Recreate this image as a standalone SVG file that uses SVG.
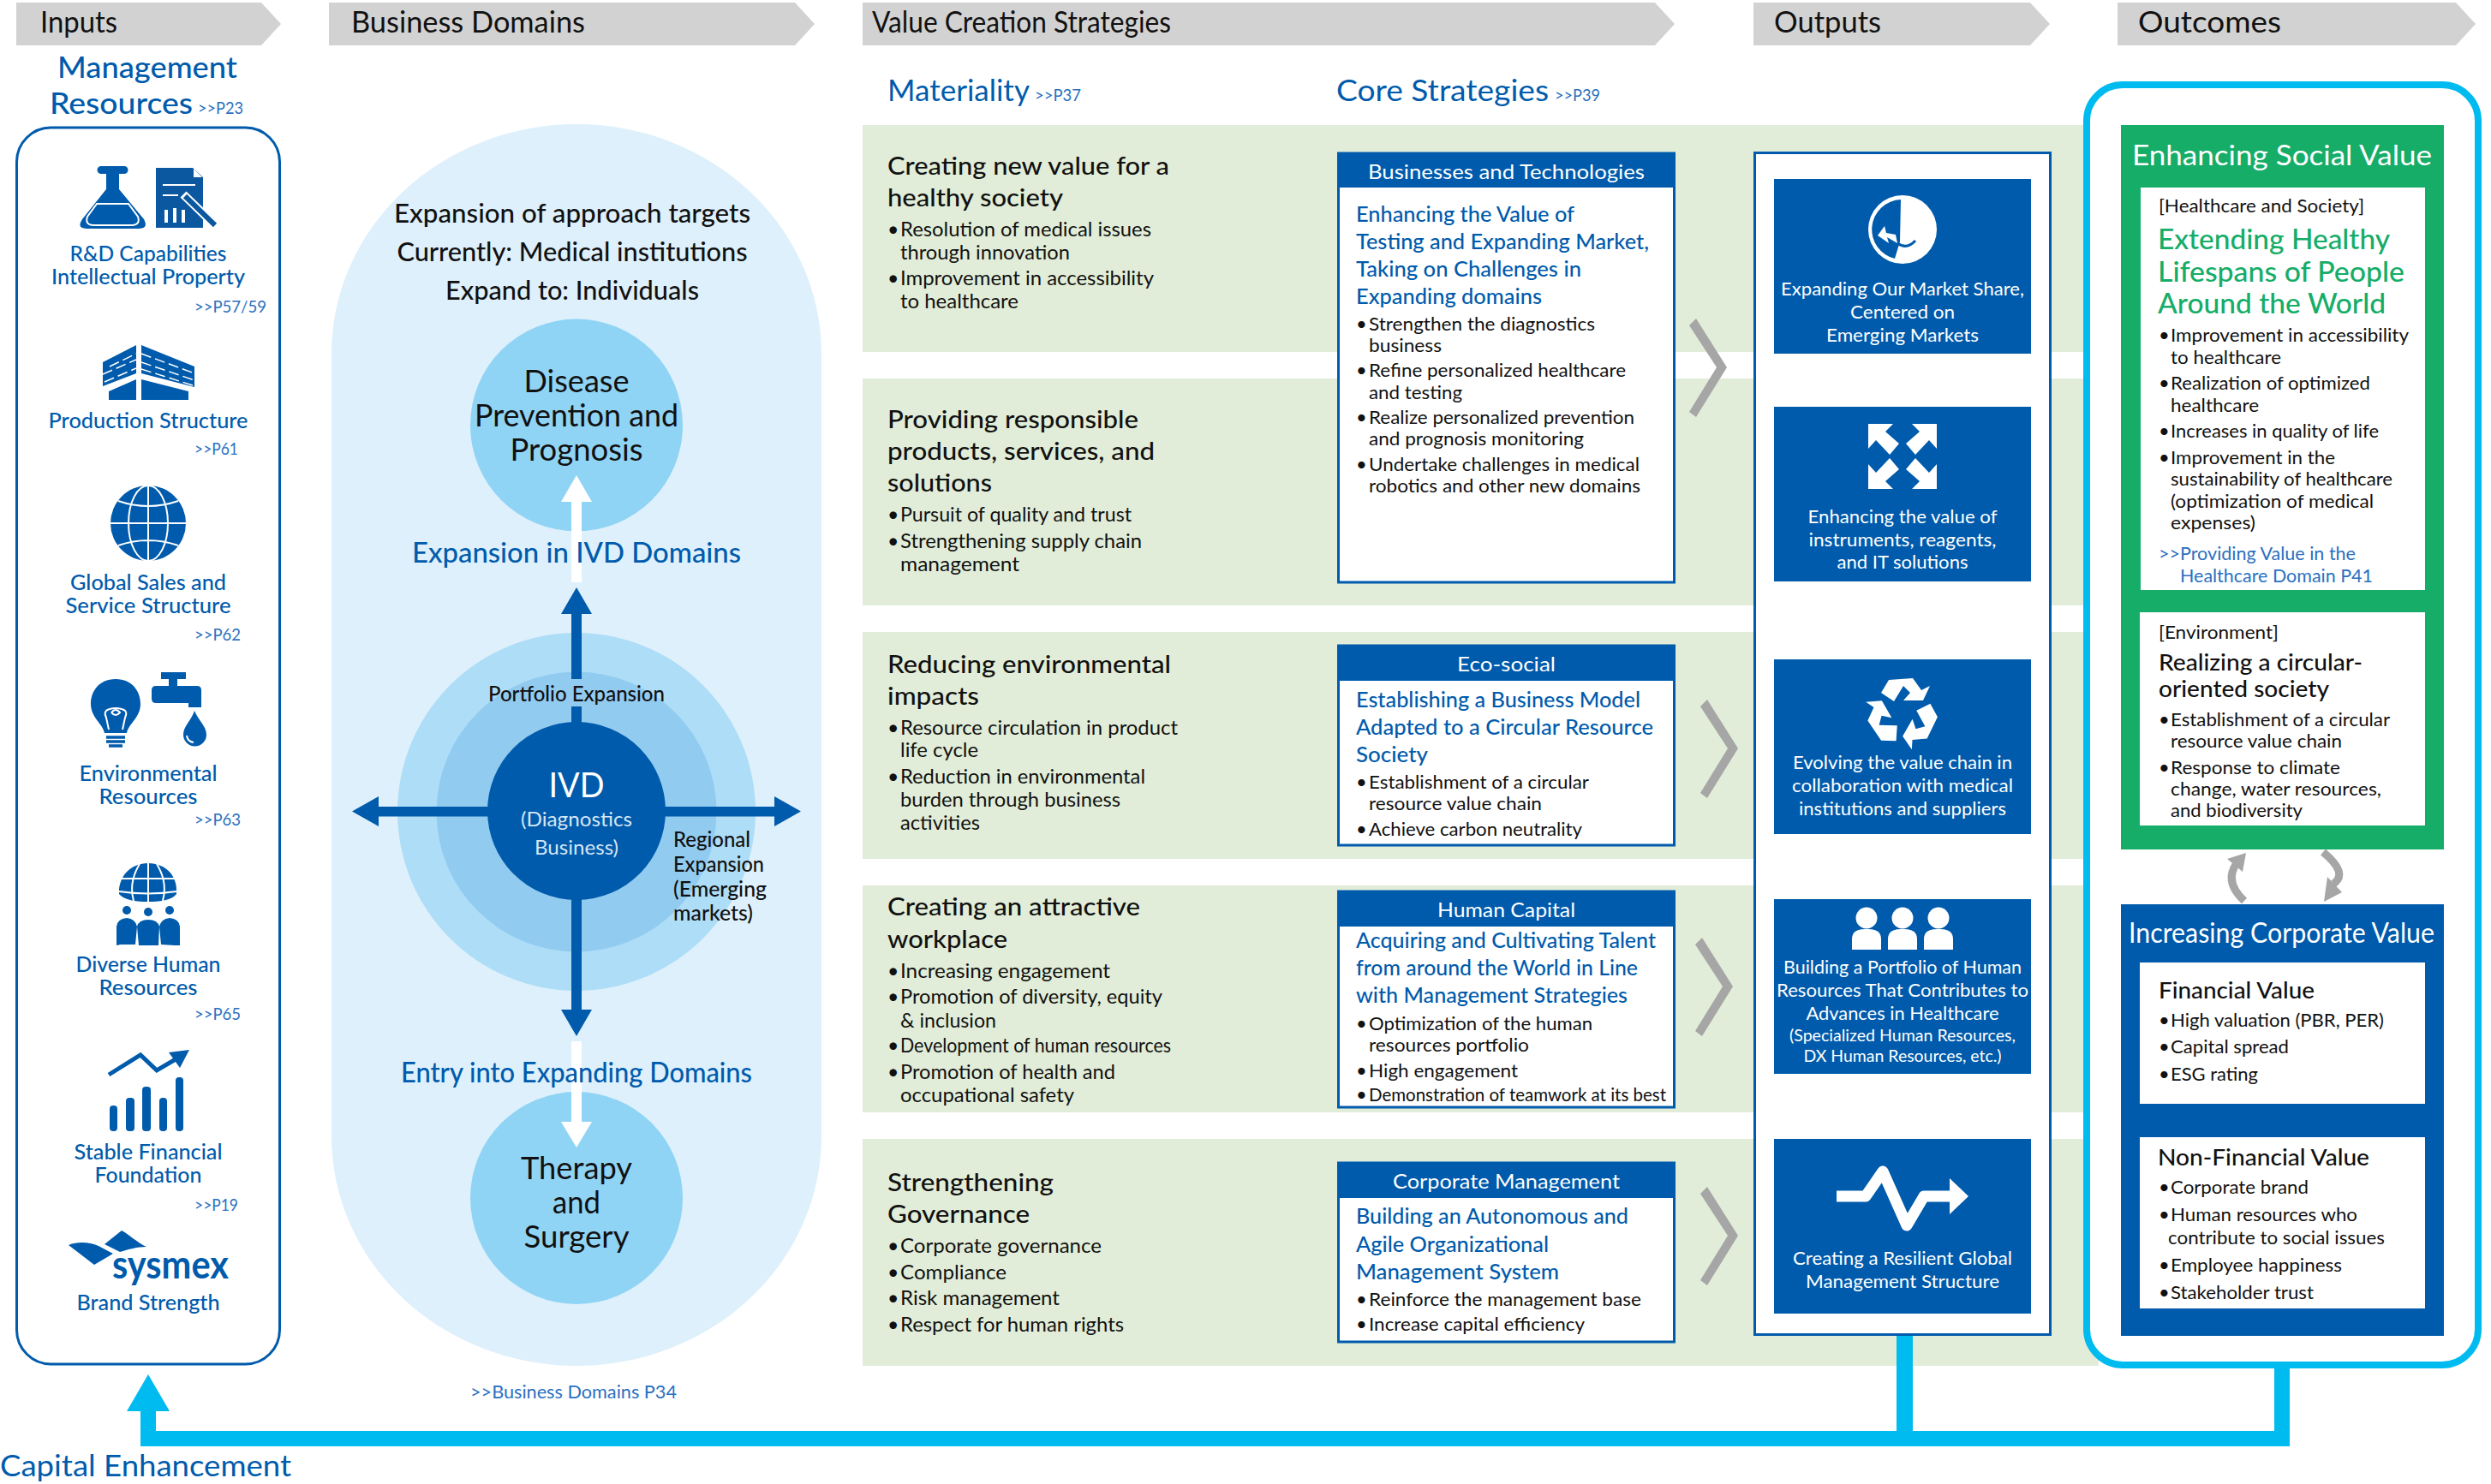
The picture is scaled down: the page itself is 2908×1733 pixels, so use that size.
<svg xmlns="http://www.w3.org/2000/svg" width="2908" height="1733" viewBox="0 0 2908 1733">
<style>
text{font-family:Lato,"Liberation Sans",sans-serif;fill:#111}
.b{fill:#005bac}.l{fill:#2b70c0}.w{fill:#fff}.g{fill:#15ad68}.lw{fill:#d6e6f5}
.c{text-anchor:middle}.m{font-weight:500}
.s19{font-size:19px}.s21{font-size:21px}.s22{font-size:22px}.s23{font-size:23px}.s24{font-size:24px}.s25{font-size:25px}.s26{font-size:26px}.s27{font-size:27px}.s28{font-size:28px}.s30{font-size:30px}.s32{font-size:32px}.s33{font-size:33px}.s34{font-size:34px}.s36{font-size:36px}.s40{font-size:40px}
.fb{fill:#005bac}.fw{fill:#fff}.fc{fill:#00bbf0}.fg{fill:#a6a6a6}.fh{fill:#d2d2d2}.fe{fill:#e1edd8}
.box{fill:#fff;stroke:#005bac;stroke-width:3}
.wl{fill:none;stroke:#fff;stroke-width:2}
</style>
<defs>
<polygon id="chev" points="0,8 8,0 44,57 8,115 0,109 32,57"/>
<polygon id="ra" points="-25,-23 -16,-38 12,-40 22,-26 32,-31 24,-14 1,-14 9,-23 1,-31 -10,-13"/>
<polygon id="ea" points="11,-38 40,-38 40,-9 31,-19 15,-2 4,-15 20,-29"/>
<g id="pers"><circle cx="0" cy="0" r="12.5"/><path d="M-17 37V25C-17 14-8 13 0 13S17 14 17 25V37Z"/></g>
</defs>

<rect class="fe" x="1007" y="146" width="1443" height="265"/>
<rect class="fe" x="1007" y="442" width="1443" height="265"/>
<rect class="fe" x="1007" y="738" width="1443" height="265"/>
<rect class="fe" x="1007" y="1034" width="1443" height="265"/>
<rect class="fe" x="1007" y="1330" width="1443" height="265"/>

<g id="header-inputs"><polygon class="fh" points="19,3 305,3 328,28 305,53 19,53"/><text class="s34" x="47" y="38" textLength="90" lengthAdjust="spacingAndGlyphs">Inputs</text></g>
<g id="header-domains"><polygon class="fh" points="384,3 928,3 951,28 928,53 384,53"/><text class="s34" x="410" y="38" textLength="273" lengthAdjust="spacingAndGlyphs">Business Domains</text></g>
<g id="header-strategies"><polygon class="fh" points="1007,3 1932,3 1955,28 1932,53 1007,53"/><text class="s34" x="1018" y="38" textLength="349" lengthAdjust="spacingAndGlyphs">Value Creation Strategies</text></g>
<g id="header-outputs"><polygon class="fh" points="2047,3 2370,3 2393,28 2370,53 2047,53"/><text class="s34" x="2071" y="38" textLength="125" lengthAdjust="spacingAndGlyphs">Outputs</text></g>
<g id="header-outcomes"><polygon class="fh" points="2472,3 2867,3 2890,28 2867,53 2472,53"/><text class="s34" x="2496" y="38" textLength="167" lengthAdjust="spacingAndGlyphs">Outcomes</text></g>

<g id="management-resources">
<text class="s34 b m c" x="172" y="91" textLength="210" lengthAdjust="spacingAndGlyphs">Management</text>
<text class="s34 b m" x="58" y="133" textLength="167" lengthAdjust="spacingAndGlyphs">Resources</text>
<text class="s19 l" x="231" y="133" textLength="53" lengthAdjust="spacingAndGlyphs">&gt;&gt;P23</text>
<rect x="19.500" y="149" width="307" height="1444" rx="40" fill="#fff" stroke="#005bac" stroke-width="3"/>
</g>

<g id="res-rd">
<path class="fb" d="M118 194H145a4.500 4.500 0 0 1 0 9H139V221L168 256Q174 267 162 267H101Q89 267 96 256L124 221V203H118a4.500 4.500 0 0 1 0-9Z"/>
<path class="wl" d="M113 238H150L161 253Q164 262 155 263H108Q99 262 102 253Z"/>
<path fill="#0b57a0" d="M182 196H225L237 207V266H182Z"/>
<path class="fw" d="M226 197L236 207H226Z"/>
<path class="wl" d="M190 216H228M190 228H208"/>
<path d="M194 245V260M204 243V260M214 245V260" stroke="#fff" stroke-width="4" fill="none"/>
<path d="M214 227L250 262" stroke="#fff" stroke-width="10" fill="none"/>
<path d="M216 229L251 263" stroke="#0b57a0" stroke-width="6" fill="none"/>
<text class="s24 b m c" x="173" y="305" textLength="183" lengthAdjust="spacingAndGlyphs">R&amp;D Capabilities</text>
<text class="s24 b m c" x="173" y="332" textLength="226" lengthAdjust="spacingAndGlyphs">Intellectual Property</text>
<text class="s19 l" x="227" y="365" textLength="84" lengthAdjust="spacingAndGlyphs">&gt;&gt;P57/59</text>
</g>

<g id="res-production">
<polygon class="fb" points="120,423 159,403 159,436 120,451"/>
<polygon class="fb" points="165,403 227,428 227,452 165,436"/>
<polygon class="fb" points="127,467 127,457 159,443 159,467"/>
<polygon class="fb" points="165,443 220,457 220,467 165,467"/>
<path d="M120 437L159 420M122 446L159 430M128 428L159 413M165 413L227 436M165 423L227 444M165 431L225 450" stroke="#fff" stroke-width="1.500" stroke-dasharray="12 5" fill="none"/>
<text class="s24 b m c" x="173" y="500" textLength="233" lengthAdjust="spacingAndGlyphs">Production Structure</text>
<text class="s19 l" x="227" y="531" textLength="51" lengthAdjust="spacingAndGlyphs">&gt;&gt;P61</text>
</g>

<g id="res-global">
<circle class="fb" cx="173" cy="611" r="44"/>
<ellipse class="wl" cx="173" cy="611" rx="23" ry="44"/>
<path class="wl" d="M173 567V655M129 611H217M138 585Q173 597 208 585M138 637Q173 625 208 637"/>
<text class="s24 b m c" x="173" y="689" textLength="182" lengthAdjust="spacingAndGlyphs">Global Sales and</text>
<text class="s24 b m c" x="173" y="716" textLength="193" lengthAdjust="spacingAndGlyphs">Service Structure</text>
<text class="s19 l" x="227" y="748" textLength="54" lengthAdjust="spacingAndGlyphs">&gt;&gt;P62</text>
</g>

<g id="res-environment">
<path class="fb" d="M135 793C155 793 164 808 164 822C164 838 150 845 148 856H122C120 845 106 838 106 822C106 808 115 793 135 793Z"/>
<path class="wl" d="M127 852L124 838Q120 830 128 828Q135 826 142 828Q150 830 146 838L143 852M130 832Q135 838 140 832Q135 826 130 832"/>
<path d="M124 861H146M124 866H146M127 871H143" stroke="#005bac" stroke-width="3.500" fill="none"/>
<path class="fb" d="M188 785H217V793H207V801H230Q235 801 235 806V826H220V821H182Q177 821 177 816V806Q177 801 182 801H197V793H188Z"/>
<path class="fb" d="M227 830C232 842 241 848 241 858A13.500 13.500 0 0 1 214 858C214 848 223 842 227 830Z"/>
<path class="wl" d="M218 859Q219 866 226 867"/>
<text class="s24 b m c" x="173" y="912" textLength="161" lengthAdjust="spacingAndGlyphs">Environmental</text>
<text class="s24 b m c" x="173" y="939" textLength="115" lengthAdjust="spacingAndGlyphs">Resources</text>
<text class="s19 l" x="227" y="964" textLength="54" lengthAdjust="spacingAndGlyphs">&gt;&gt;P63</text>
</g>

<g id="res-human">
<path class="fb" d="M139 1038C141 1020 155 1008 173 1008C191 1008 205 1020 206 1038V1044C200 1052 185 1053 173 1053C160 1053 146 1052 139 1044Z"/>
<path class="wl" d="M173 1008V1053M139 1026H206M139 1041Q173 1046 206 1041M156 1052Q150 1030 163 1009M190 1052Q196 1030 183 1009"/>
<circle class="fb" cx="148" cy="1063" r="5"/><circle class="fb" cx="173" cy="1065" r="5"/><circle class="fb" cx="198" cy="1063" r="5"/>
<path class="fb" d="M136 1104V1082Q137 1073 148 1072Q158 1073 160 1082L158 1103H141ZM162 1104L160 1082Q162 1074 173 1074Q184 1074 186 1082L185 1104ZM188 1103L186 1082Q188 1073 198 1072Q209 1073 210 1082V1104H204Z"/>
<text class="s24 b m c" x="173" y="1135" textLength="169" lengthAdjust="spacingAndGlyphs">Diverse Human</text>
<text class="s24 b m c" x="173" y="1162" textLength="115" lengthAdjust="spacingAndGlyphs">Resources</text>
<text class="s19 l" x="227" y="1191" textLength="54" lengthAdjust="spacingAndGlyphs">&gt;&gt;P65</text>
</g>

<g id="res-financial">
<path d="M127 1255L164 1232L183 1250L205 1237" fill="none" stroke="#005bac" stroke-width="5"/>
<polygon class="fb" points="197,1229 221,1226 210,1247"/>
<rect class="fb" x="128" y="1291" width="9" height="30" rx="4"/><rect class="fb" x="147" y="1282" width="10" height="39" rx="4"/><rect class="fb" x="166" y="1269" width="10" height="52" rx="4"/><rect class="fb" x="186" y="1282" width="9" height="39" rx="4"/><rect class="fb" x="205" y="1258" width="9" height="63" rx="4"/>
<text class="s24 b m c" x="173" y="1354" textLength="173" lengthAdjust="spacingAndGlyphs">Stable Financial</text>
<text class="s24 b m c" x="173" y="1381" textLength="125" lengthAdjust="spacingAndGlyphs">Foundation</text>
<text class="s19 l" x="227" y="1414" textLength="51" lengthAdjust="spacingAndGlyphs">&gt;&gt;P19</text>
</g>

<g id="res-brand">
<path class="fb" d="M80 1454C92 1449 105 1451 115 1455L132 1464L110 1477Z"/>
<path class="fb" d="M122 1453L142 1437C150 1441 160 1451 171 1456C160 1456 150 1459 140 1462Z"/>
<text x="199" y="1493" text-anchor="middle" font-size="46" font-weight="700" style="fill:#005bac" textLength="136" lengthAdjust="spacingAndGlyphs">sysmex</text>
<text class="s24 b m c" x="173" y="1530" textLength="167" lengthAdjust="spacingAndGlyphs">Brand Strength</text>
</g>

<g id="business-domains">
<rect x="387" y="145" width="572" height="1450" rx="286" ry="268" fill="#def0fb"/>
<circle cx="673" cy="948" r="209" fill="#aeddf7"/>
<circle cx="673" cy="948" r="163.500" fill="#92cbf0"/>
</g>
<g id="domain-prevention"><circle cx="673" cy="496.500" r="124" fill="#90d4f5"/>
<text class="s36 c" x="673" y="458" textLength="123" lengthAdjust="spacingAndGlyphs">Disease</text>
<text class="s36 c" x="673" y="498" textLength="238" lengthAdjust="spacingAndGlyphs">Prevention and</text>
<text class="s36 c" x="673" y="538" textLength="155" lengthAdjust="spacingAndGlyphs">Prognosis</text></g>
<g id="domain-therapy"><circle cx="673" cy="1399" r="124" fill="#90d4f5"/>
<text class="s36 c" x="673" y="1377" textLength="130" lengthAdjust="spacingAndGlyphs">Therapy</text>
<text class="s36 c" x="673" y="1417" textLength="56" lengthAdjust="spacingAndGlyphs">and</text>
<text class="s36 c" x="673" y="1457" textLength="123" lengthAdjust="spacingAndGlyphs">Surgery</text></g>

<g id="connectors">
<path class="fb" d="M667 793V717H655L673 686L691 717H679V793ZM667 825H679V850H667ZM667 1045H679V1179H691L673 1210L655 1179H667ZM575 942V953.500H442V965L411 947.500L442 930V942ZM771 942H904V930L935 947.500L904 965V953.500H771Z"/>
<path class="fw" d="M667 680V586H655L673 555L691 586H679V680ZM667 1216H679V1310H691L673 1340L655 1310H667Z"/>
<path class="fc" d="M148 1648L173 1605L198 1648H182V1671H2214V1560H2233V1671H2655V1594H2673V1689H164V1648Z"/>
<use class="fg" href="#chev" x="1972" y="372"/>
<use class="fg" href="#chev" x="1985" y="817"/>
<use class="fg" href="#chev" x="1979" y="1095"/>
<use class="fg" href="#chev" x="1985" y="1386"/>
</g>

<g id="domain-labels">
<text class="s30 m c" x="668" y="260" textLength="416" lengthAdjust="spacingAndGlyphs">Expansion of approach targets</text>
<text class="s30 m c" x="668" y="305" textLength="409" lengthAdjust="spacingAndGlyphs">Currently: Medical institutions</text>
<text class="s30 m c" x="668" y="350" textLength="296" lengthAdjust="spacingAndGlyphs">Expand to: Individuals</text>
<text class="s32 b m c" x="673" y="657" textLength="384" lengthAdjust="spacingAndGlyphs">Expansion in IVD Domains</text>
<text class="s32 b m c" x="673" y="1264" textLength="410" lengthAdjust="spacingAndGlyphs">Entry into Expanding Domains</text>
<text class="l s21 c" x="669.500" y="1633" textLength="241" lengthAdjust="spacingAndGlyphs">&gt;&gt;Business Domains P34</text>
<text class="s24 m c" x="673" y="819" textLength="206" lengthAdjust="spacingAndGlyphs">Portfolio Expansion</text>
<text class="s24 m" x="786" y="989" textLength="90" lengthAdjust="spacingAndGlyphs">Regional</text>
<text class="s24 m" x="786" y="1018" textLength="106" lengthAdjust="spacingAndGlyphs">Expansion</text>
<text class="s24 m" x="786" y="1047" textLength="109" lengthAdjust="spacingAndGlyphs">(Emerging</text>
<text class="s24 m" x="786" y="1075" textLength="93" lengthAdjust="spacingAndGlyphs">markets)</text>
</g>

<g id="domain-ivd"><circle cx="673" cy="947" r="104" fill="#005bac"/>
<text class="s40 w c" x="673" y="931" textLength="65" lengthAdjust="spacingAndGlyphs">IVD</text>
<text class="s24 lw c" x="673" y="965" textLength="130" lengthAdjust="spacingAndGlyphs">(Diagnostics</text>
<text class="s24 lw c" x="673" y="998" textLength="98" lengthAdjust="spacingAndGlyphs">Business)</text></g>

<g id="strategy-titles">
<text class="s34 b" x="1036" y="118" textLength="166" lengthAdjust="spacingAndGlyphs">Materiality</text>
<text class="s19 l" x="1208" y="118" textLength="54" lengthAdjust="spacingAndGlyphs">&gt;&gt;P37</text>
<text class="s34 b" x="1560" y="118" textLength="248" lengthAdjust="spacingAndGlyphs">Core Strategies</text>
<text class="s19 l" x="1815" y="118" textLength="53" lengthAdjust="spacingAndGlyphs">&gt;&gt;P39</text>
</g>

<g id="materiality-1">
<text class="s28 m" x="1036" y="204" textLength="329" lengthAdjust="spacingAndGlyphs">Creating new value for a</text>
<text class="s28 m" x="1036" y="241" textLength="205" lengthAdjust="spacingAndGlyphs">healthy society</text>
<text class="s23" x="1036" y="276">•</text><text class="s23" x="1051" y="276" textLength="293" lengthAdjust="spacingAndGlyphs">Resolution of medical issues</text>
<text class="s23" x="1051" y="303" textLength="198" lengthAdjust="spacingAndGlyphs">through innovation</text>
<text class="s23" x="1036" y="333">•</text><text class="s23" x="1051" y="333" textLength="296" lengthAdjust="spacingAndGlyphs">Improvement in accessibility</text>
<text class="s23" x="1051" y="360" textLength="138" lengthAdjust="spacingAndGlyphs">to healthcare</text>
</g>
<g id="materiality-2">
<text class="s28 m" x="1036" y="500" textLength="293" lengthAdjust="spacingAndGlyphs">Providing responsible</text>
<text class="s28 m" x="1036" y="537" textLength="312" lengthAdjust="spacingAndGlyphs">products, services, and</text>
<text class="s28 m" x="1036" y="574" textLength="122" lengthAdjust="spacingAndGlyphs">solutions</text>
<text class="s23" x="1036" y="609">•</text><text class="s23" x="1051" y="609" textLength="270" lengthAdjust="spacingAndGlyphs">Pursuit of quality and trust</text>
<text class="s23" x="1036" y="640">•</text><text class="s23" x="1051" y="640" textLength="282" lengthAdjust="spacingAndGlyphs">Strengthening supply chain</text>
<text class="s23" x="1051" y="667" textLength="139" lengthAdjust="spacingAndGlyphs">management</text>
</g>
<g id="materiality-3">
<text class="s28 m" x="1036" y="786" textLength="331" lengthAdjust="spacingAndGlyphs">Reducing environmental</text>
<text class="s28 m" x="1036" y="823" textLength="107" lengthAdjust="spacingAndGlyphs">impacts</text>
<text class="s23" x="1036" y="858">•</text><text class="s23" x="1051" y="858" textLength="324" lengthAdjust="spacingAndGlyphs">Resource circulation in product</text>
<text class="s23" x="1051" y="884" textLength="91" lengthAdjust="spacingAndGlyphs">life cycle</text>
<text class="s23" x="1036" y="915">•</text><text class="s23" x="1051" y="915" textLength="286" lengthAdjust="spacingAndGlyphs">Reduction in environmental</text>
<text class="s23" x="1051" y="942" textLength="257" lengthAdjust="spacingAndGlyphs">burden through business</text>
<text class="s23" x="1051" y="969" textLength="93" lengthAdjust="spacingAndGlyphs">activities</text>
</g>
<g id="materiality-4">
<text class="s28 m" x="1036" y="1069" textLength="295" lengthAdjust="spacingAndGlyphs">Creating an attractive</text>
<text class="s28 m" x="1036" y="1107" textLength="140" lengthAdjust="spacingAndGlyphs">workplace</text>
<text class="s23" x="1036" y="1142">•</text><text class="s23" x="1051" y="1142" textLength="245" lengthAdjust="spacingAndGlyphs">Increasing engagement</text>
<text class="s23" x="1036" y="1172">•</text><text class="s23" x="1051" y="1172" textLength="306" lengthAdjust="spacingAndGlyphs">Promotion of diversity, equity</text>
<text class="s23" x="1051" y="1200" textLength="112" lengthAdjust="spacingAndGlyphs">&amp; inclusion</text>
<text class="s23" x="1036" y="1229">•</text><text class="s23" x="1051" y="1229" textLength="316" lengthAdjust="spacingAndGlyphs">Development of human resources</text>
<text class="s23" x="1036" y="1260">•</text><text class="s23" x="1051" y="1260" textLength="251" lengthAdjust="spacingAndGlyphs">Promotion of health and</text>
<text class="s23" x="1051" y="1287" textLength="203" lengthAdjust="spacingAndGlyphs">occupational safety</text>
</g>
<g id="materiality-5">
<text class="s28 m" x="1036" y="1391" textLength="194" lengthAdjust="spacingAndGlyphs">Strengthening</text>
<text class="s28 m" x="1036" y="1428" textLength="166" lengthAdjust="spacingAndGlyphs">Governance</text>
<text class="s23" x="1036" y="1463">•</text><text class="s23" x="1051" y="1463" textLength="235" lengthAdjust="spacingAndGlyphs">Corporate governance</text>
<text class="s23" x="1036" y="1494">•</text><text class="s23" x="1051" y="1494" textLength="124" lengthAdjust="spacingAndGlyphs">Compliance</text>
<text class="s23" x="1036" y="1524">•</text><text class="s23" x="1051" y="1524" textLength="186" lengthAdjust="spacingAndGlyphs">Risk management</text>
<text class="s23" x="1036" y="1555">•</text><text class="s23" x="1051" y="1555" textLength="261" lengthAdjust="spacingAndGlyphs">Respect for human rights</text>
</g>

<g id="core-business">
<rect class="box" x="1562.500" y="179" width="392" height="501"/><rect class="fb" x="1561" y="178" width="395" height="41"/>
<text class="s24 w c" x="1758.500" y="209" textLength="323" lengthAdjust="spacingAndGlyphs">Businesses and Technologies</text>
<text class="s25 b m" x="1583" y="259" textLength="255" lengthAdjust="spacingAndGlyphs">Enhancing the Value of</text>
<text class="s25 b m" x="1583" y="291" textLength="342" lengthAdjust="spacingAndGlyphs">Testing and Expanding Market,</text>
<text class="s25 b m" x="1583" y="323" textLength="263" lengthAdjust="spacingAndGlyphs">Taking on Challenges in</text>
<text class="s25 b m" x="1583" y="355" textLength="217" lengthAdjust="spacingAndGlyphs">Expanding domains</text>
<text class="s22" x="1583" y="386">•</text><text class="s22" x="1598" y="386" textLength="264" lengthAdjust="spacingAndGlyphs">Strengthen the diagnostics</text>
<text class="s22" x="1598" y="411" textLength="85" lengthAdjust="spacingAndGlyphs">business</text>
<text class="s22" x="1583" y="440">•</text><text class="s22" x="1598" y="440" textLength="300" lengthAdjust="spacingAndGlyphs">Refine personalized healthcare</text>
<text class="s22" x="1598" y="466" textLength="109" lengthAdjust="spacingAndGlyphs">and testing</text>
<text class="s22" x="1583" y="495">•</text><text class="s22" x="1598" y="495" textLength="310" lengthAdjust="spacingAndGlyphs">Realize personalized prevention</text>
<text class="s22" x="1598" y="520" textLength="251" lengthAdjust="spacingAndGlyphs">and prognosis monitoring</text>
<text class="s22" x="1583" y="550">•</text><text class="s22" x="1598" y="550" textLength="316" lengthAdjust="spacingAndGlyphs">Undertake challenges in medical</text>
<text class="s22" x="1598" y="575" textLength="317" lengthAdjust="spacingAndGlyphs">robotics and other new domains</text>
</g>
<g id="core-eco">
<rect class="box" x="1562.500" y="754" width="392" height="233"/><rect class="fb" x="1561" y="753" width="395" height="42"/>
<text class="s24 w c" x="1758.500" y="784" textLength="115" lengthAdjust="spacingAndGlyphs">Eco-social</text>
<text class="s25 b m" x="1583" y="826" textLength="332" lengthAdjust="spacingAndGlyphs">Establishing a Business Model</text>
<text class="s25 b m" x="1583" y="858" textLength="347" lengthAdjust="spacingAndGlyphs">Adapted to a Circular Resource</text>
<text class="s25 b m" x="1583" y="890" textLength="84" lengthAdjust="spacingAndGlyphs">Society</text>
<text class="s22" x="1583" y="921">•</text><text class="s22" x="1598" y="921" textLength="257" lengthAdjust="spacingAndGlyphs">Establishment of a circular</text>
<text class="s22" x="1598" y="946" textLength="202" lengthAdjust="spacingAndGlyphs">resource value chain</text>
<text class="s22" x="1583" y="976">•</text><text class="s22" x="1598" y="976" textLength="249" lengthAdjust="spacingAndGlyphs">Achieve carbon neutrality</text>
</g>
<g id="core-human">
<rect class="box" x="1562.500" y="1041" width="392" height="252"/><rect class="fb" x="1561" y="1040" width="395" height="42"/>
<text class="s24 w c" x="1758.500" y="1071" textLength="161" lengthAdjust="spacingAndGlyphs">Human Capital</text>
<text class="s25 b m" x="1583" y="1107" textLength="350" lengthAdjust="spacingAndGlyphs">Acquiring and Cultivating Talent</text>
<text class="s25 b m" x="1583" y="1139" textLength="329" lengthAdjust="spacingAndGlyphs">from around the World in Line</text>
<text class="s25 b m" x="1583" y="1171" textLength="317" lengthAdjust="spacingAndGlyphs">with Management Strategies</text>
<text class="s22" x="1583" y="1203">•</text><text class="s22" x="1598" y="1203" textLength="261" lengthAdjust="spacingAndGlyphs">Optimization of the human</text>
<text class="s22" x="1598" y="1228" textLength="187" lengthAdjust="spacingAndGlyphs">resources portfolio</text>
<text class="s22" x="1583" y="1258">•</text><text class="s22" x="1598" y="1258" textLength="174" lengthAdjust="spacingAndGlyphs">High engagement</text>
<text class="s22" x="1583" y="1286">•</text><text class="s22" x="1598" y="1286" textLength="347" lengthAdjust="spacingAndGlyphs">Demonstration of teamwork at its best</text>
</g>
<g id="core-corporate">
<rect class="box" x="1562.500" y="1358" width="392" height="209"/><rect class="fb" x="1561" y="1357" width="395" height="42"/>
<text class="s24 w c" x="1758.500" y="1388" textLength="265" lengthAdjust="spacingAndGlyphs">Corporate Management</text>
<text class="s25 b m" x="1583" y="1429" textLength="318" lengthAdjust="spacingAndGlyphs">Building an Autonomous and</text>
<text class="s25 b m" x="1583" y="1462" textLength="225" lengthAdjust="spacingAndGlyphs">Agile Organizational</text>
<text class="s25 b m" x="1583" y="1494" textLength="237" lengthAdjust="spacingAndGlyphs">Management System</text>
<text class="s22" x="1583" y="1525">•</text><text class="s22" x="1598" y="1525" textLength="318" lengthAdjust="spacingAndGlyphs">Reinforce the management base</text>
<text class="s22" x="1583" y="1554">•</text><text class="s22" x="1598" y="1554" textLength="252" lengthAdjust="spacingAndGlyphs">Increase capital efficiency</text>
</g>

<rect class="box" x="2048.500" y="178.500" width="345" height="1380"/>
<g id="output-market">
<rect class="fb" x="2071" y="209" width="300" height="204"/>
<circle class="fw" cx="2221" cy="268" r="40"/>
<path class="fb" d="M2219 233A35 35 0 0 0 2212 302L2218 282Z"/>
<polygon class="fw" points="2192,275 2200,264 2202,272 2213,274 2215,284 2203,277 2205,284"/>
<path d="M2215 284Q2226 292 2236 281" fill="none" stroke="#005bac" stroke-width="3"/>
<text class="s22 w c" x="2221" y="345" textLength="284" lengthAdjust="spacingAndGlyphs">Expanding Our Market Share,</text>
<text class="s22 w c" x="2221" y="372" textLength="122" lengthAdjust="spacingAndGlyphs">Centered on</text>
<text class="s22 w c" x="2221" y="399" textLength="178" lengthAdjust="spacingAndGlyphs">Emerging Markets</text>
</g>
<g id="output-value">
<rect class="fb" x="2071" y="475" width="300" height="204"/>
<g class="fw" transform="translate(2221 533)"><use href="#ea"/><use href="#ea" transform="scale(-1 1)"/><use href="#ea" transform="scale(1 -1)"/><use href="#ea" transform="scale(-1 -1)"/></g>
<text class="s22 w c" x="2221" y="611" textLength="221" lengthAdjust="spacingAndGlyphs">Enhancing the value of</text>
<text class="s22 w c" x="2221" y="638" textLength="219" lengthAdjust="spacingAndGlyphs">instruments, reagents,</text>
<text class="s22 w c" x="2221" y="664" textLength="153" lengthAdjust="spacingAndGlyphs">and IT solutions</text>
</g>
<g id="output-chain">
<rect class="fb" x="2071" y="770" width="300" height="204"/>
<g class="fw" transform="translate(2221 832)"><use href="#ra"/><use href="#ra" transform="rotate(120)"/><use href="#ra" transform="rotate(240)"/></g>
<text class="s22 w c" x="2221" y="898" textLength="256" lengthAdjust="spacingAndGlyphs">Evolving the value chain in</text>
<text class="s22 w c" x="2221" y="925" textLength="258" lengthAdjust="spacingAndGlyphs">collaboration with medical</text>
<text class="s22 w c" x="2221" y="952" textLength="242" lengthAdjust="spacingAndGlyphs">institutions and suppliers</text>
</g>
<g id="output-human">
<rect class="fb" x="2071" y="1050" width="300" height="204"/>
<g class="fw"><use href="#pers" x="2179" y="1072"/><use href="#pers" x="2221" y="1072"/><use href="#pers" x="2263" y="1072"/></g>
<text class="s22 w c" x="2221" y="1137" textLength="278" lengthAdjust="spacingAndGlyphs">Building a Portfolio of Human</text>
<text class="s22 w c" x="2221" y="1164" textLength="294" lengthAdjust="spacingAndGlyphs">Resources That Contributes to</text>
<text class="s22 w c" x="2221" y="1191" textLength="225" lengthAdjust="spacingAndGlyphs">Advances in Healthcare</text>
<text class="s19 w c" x="2221" y="1216" textLength="264" lengthAdjust="spacingAndGlyphs">(Specialized Human Resources,</text>
<text class="s19 w c" x="2221" y="1240" textLength="231" lengthAdjust="spacingAndGlyphs">DX Human Resources, etc.)</text>
</g>
<g id="output-structure">
<rect class="fb" x="2071" y="1330" width="300" height="204"/>
<path d="M2144 1397H2178L2198 1368L2226 1431L2246 1397H2280" fill="none" stroke="#fff" stroke-width="13" stroke-linejoin="round"/>
<polygon class="fw" points="2276,1376 2298,1397 2276,1418"/>
<text class="s22 w c" x="2221" y="1477" textLength="256" lengthAdjust="spacingAndGlyphs">Creating a Resilient Global</text>
<text class="s22 w c" x="2221" y="1504" textLength="226" lengthAdjust="spacingAndGlyphs">Management Structure</text>
</g>

<g id="outcomes">
<rect x="2436" y="99" width="457" height="1495" rx="42" fill="#fff" stroke="#00bbf0" stroke-width="8"/>
</g>
<g id="social-value">
<rect x="2476" y="146" width="377" height="846" fill="#15ad68"/>
<text class="s32 w" x="2489" y="193" textLength="350" lengthAdjust="spacingAndGlyphs">Enhancing Social Value</text>
<rect class="fw" x="2499" y="219" width="332" height="470"/>
<text class="s22" x="2520" y="248" textLength="240" lengthAdjust="spacingAndGlyphs">[Healthcare and Society]</text>
<text class="s32 g m" x="2519" y="291" textLength="271" lengthAdjust="spacingAndGlyphs">Extending Healthy</text>
<text class="s32 g m" x="2519" y="329" textLength="288" lengthAdjust="spacingAndGlyphs">Lifespans of People</text>
<text class="s32 g m" x="2519" y="366" textLength="266" lengthAdjust="spacingAndGlyphs">Around the World</text>
<text class="s22" x="2520" y="399">•</text><text class="s22" x="2534" y="399" textLength="278" lengthAdjust="spacingAndGlyphs">Improvement in accessibility</text>
<text class="s22" x="2534" y="425" textLength="129" lengthAdjust="spacingAndGlyphs">to healthcare</text>
<text class="s22" x="2520" y="455">•</text><text class="s22" x="2534" y="455" textLength="233" lengthAdjust="spacingAndGlyphs">Realization of optimized</text>
<text class="s22" x="2534" y="481" textLength="103" lengthAdjust="spacingAndGlyphs">healthcare</text>
<text class="s22" x="2520" y="511">•</text><text class="s22" x="2534" y="511" textLength="243" lengthAdjust="spacingAndGlyphs">Increases in quality of life</text>
<text class="s22" x="2520" y="542">•</text><text class="s22" x="2534" y="542" textLength="192" lengthAdjust="spacingAndGlyphs">Improvement in the</text>
<text class="s22" x="2534" y="567" textLength="259" lengthAdjust="spacingAndGlyphs">sustainability of healthcare</text>
<text class="s22" x="2534" y="593" textLength="237" lengthAdjust="spacingAndGlyphs">(optimization of medical</text>
<text class="s22" x="2534" y="618" textLength="99" lengthAdjust="spacingAndGlyphs">expenses)</text>
<text class="s22 l" x="2520" y="654" textLength="230" lengthAdjust="spacingAndGlyphs">&gt;&gt;Providing Value in the</text>
<text class="s22 l" x="2545" y="680" textLength="225" lengthAdjust="spacingAndGlyphs">Healthcare Domain P41</text>
<rect class="fw" x="2498" y="715" width="333" height="249"/>
<text class="s22" x="2520" y="746" textLength="140" lengthAdjust="spacingAndGlyphs">[Environment]</text>
<text class="s27 m" x="2520" y="783" textLength="238" lengthAdjust="spacingAndGlyphs">Realizing a circular-</text>
<text class="s27 m" x="2520" y="814" textLength="199" lengthAdjust="spacingAndGlyphs">oriented society</text>
<text class="s22" x="2520" y="848">•</text><text class="s22" x="2534" y="848" textLength="256" lengthAdjust="spacingAndGlyphs">Establishment of a circular</text>
<text class="s22" x="2534" y="873" textLength="200" lengthAdjust="spacingAndGlyphs">resource value chain</text>
<text class="s22" x="2520" y="904">•</text><text class="s22" x="2534" y="904" textLength="198" lengthAdjust="spacingAndGlyphs">Response to climate</text>
<text class="s22" x="2534" y="929" textLength="246" lengthAdjust="spacingAndGlyphs">change, water resources,</text>
<text class="s22" x="2534" y="954" textLength="154" lengthAdjust="spacingAndGlyphs">and biodiversity</text>
</g>
<g id="value-cycle" fill="none" stroke="#a6a6a6" stroke-width="9">
<path d="M2620 1052Q2596 1030 2611 1008"/>
<path d="M2712 995Q2742 1020 2724 1032"/>
<polygon fill="#a6a6a6" stroke="none" points="2600,1003 2622,996 2618,1018"/>
<polygon fill="#a6a6a6" stroke="none" points="2713,1053 2734,1042 2717,1024"/>
</g>
<g id="corporate-value">
<rect class="fb" x="2476" y="1056" width="377" height="504"/>
<text class="s32 w" x="2485" y="1101" textLength="357" lengthAdjust="spacingAndGlyphs">Increasing Corporate Value</text>
<rect class="fw" x="2498" y="1124" width="333" height="165"/>
<text class="s27 m" x="2520" y="1166" textLength="182" lengthAdjust="spacingAndGlyphs">Financial Value</text>
<text class="s22" x="2520" y="1199">•</text><text class="s22" x="2534" y="1199" textLength="249" lengthAdjust="spacingAndGlyphs">High valuation (PBR, PER)</text>
<text class="s22" x="2520" y="1230">•</text><text class="s22" x="2534" y="1230" textLength="138" lengthAdjust="spacingAndGlyphs">Capital spread</text>
<text class="s22" x="2520" y="1262">•</text><text class="s22" x="2534" y="1262" textLength="102" lengthAdjust="spacingAndGlyphs">ESG rating</text>
<rect class="fw" x="2498" y="1328" width="333" height="200"/>
<text class="s27 m" x="2519" y="1361" textLength="247" lengthAdjust="spacingAndGlyphs">Non-Financial Value</text>
<text class="s22" x="2520" y="1394">•</text><text class="s22" x="2534" y="1394" textLength="161" lengthAdjust="spacingAndGlyphs">Corporate brand</text>
<text class="s22" x="2520" y="1426">•</text><text class="s22" x="2534" y="1426" textLength="218" lengthAdjust="spacingAndGlyphs">Human resources who</text>
<text class="s22" x="2531" y="1453" textLength="253" lengthAdjust="spacingAndGlyphs">contribute to social issues</text>
<text class="s22" x="2520" y="1485">•</text><text class="s22" x="2534" y="1485" textLength="200" lengthAdjust="spacingAndGlyphs">Employee happiness</text>
<text class="s22" x="2520" y="1517">•</text><text class="s22" x="2534" y="1517" textLength="167" lengthAdjust="spacingAndGlyphs">Stakeholder trust</text>
</g>
<g id="capital-label"><text class="s34 b" x="0" y="1724" textLength="340" lengthAdjust="spacingAndGlyphs">Capital Enhancement</text></g>
</svg>
